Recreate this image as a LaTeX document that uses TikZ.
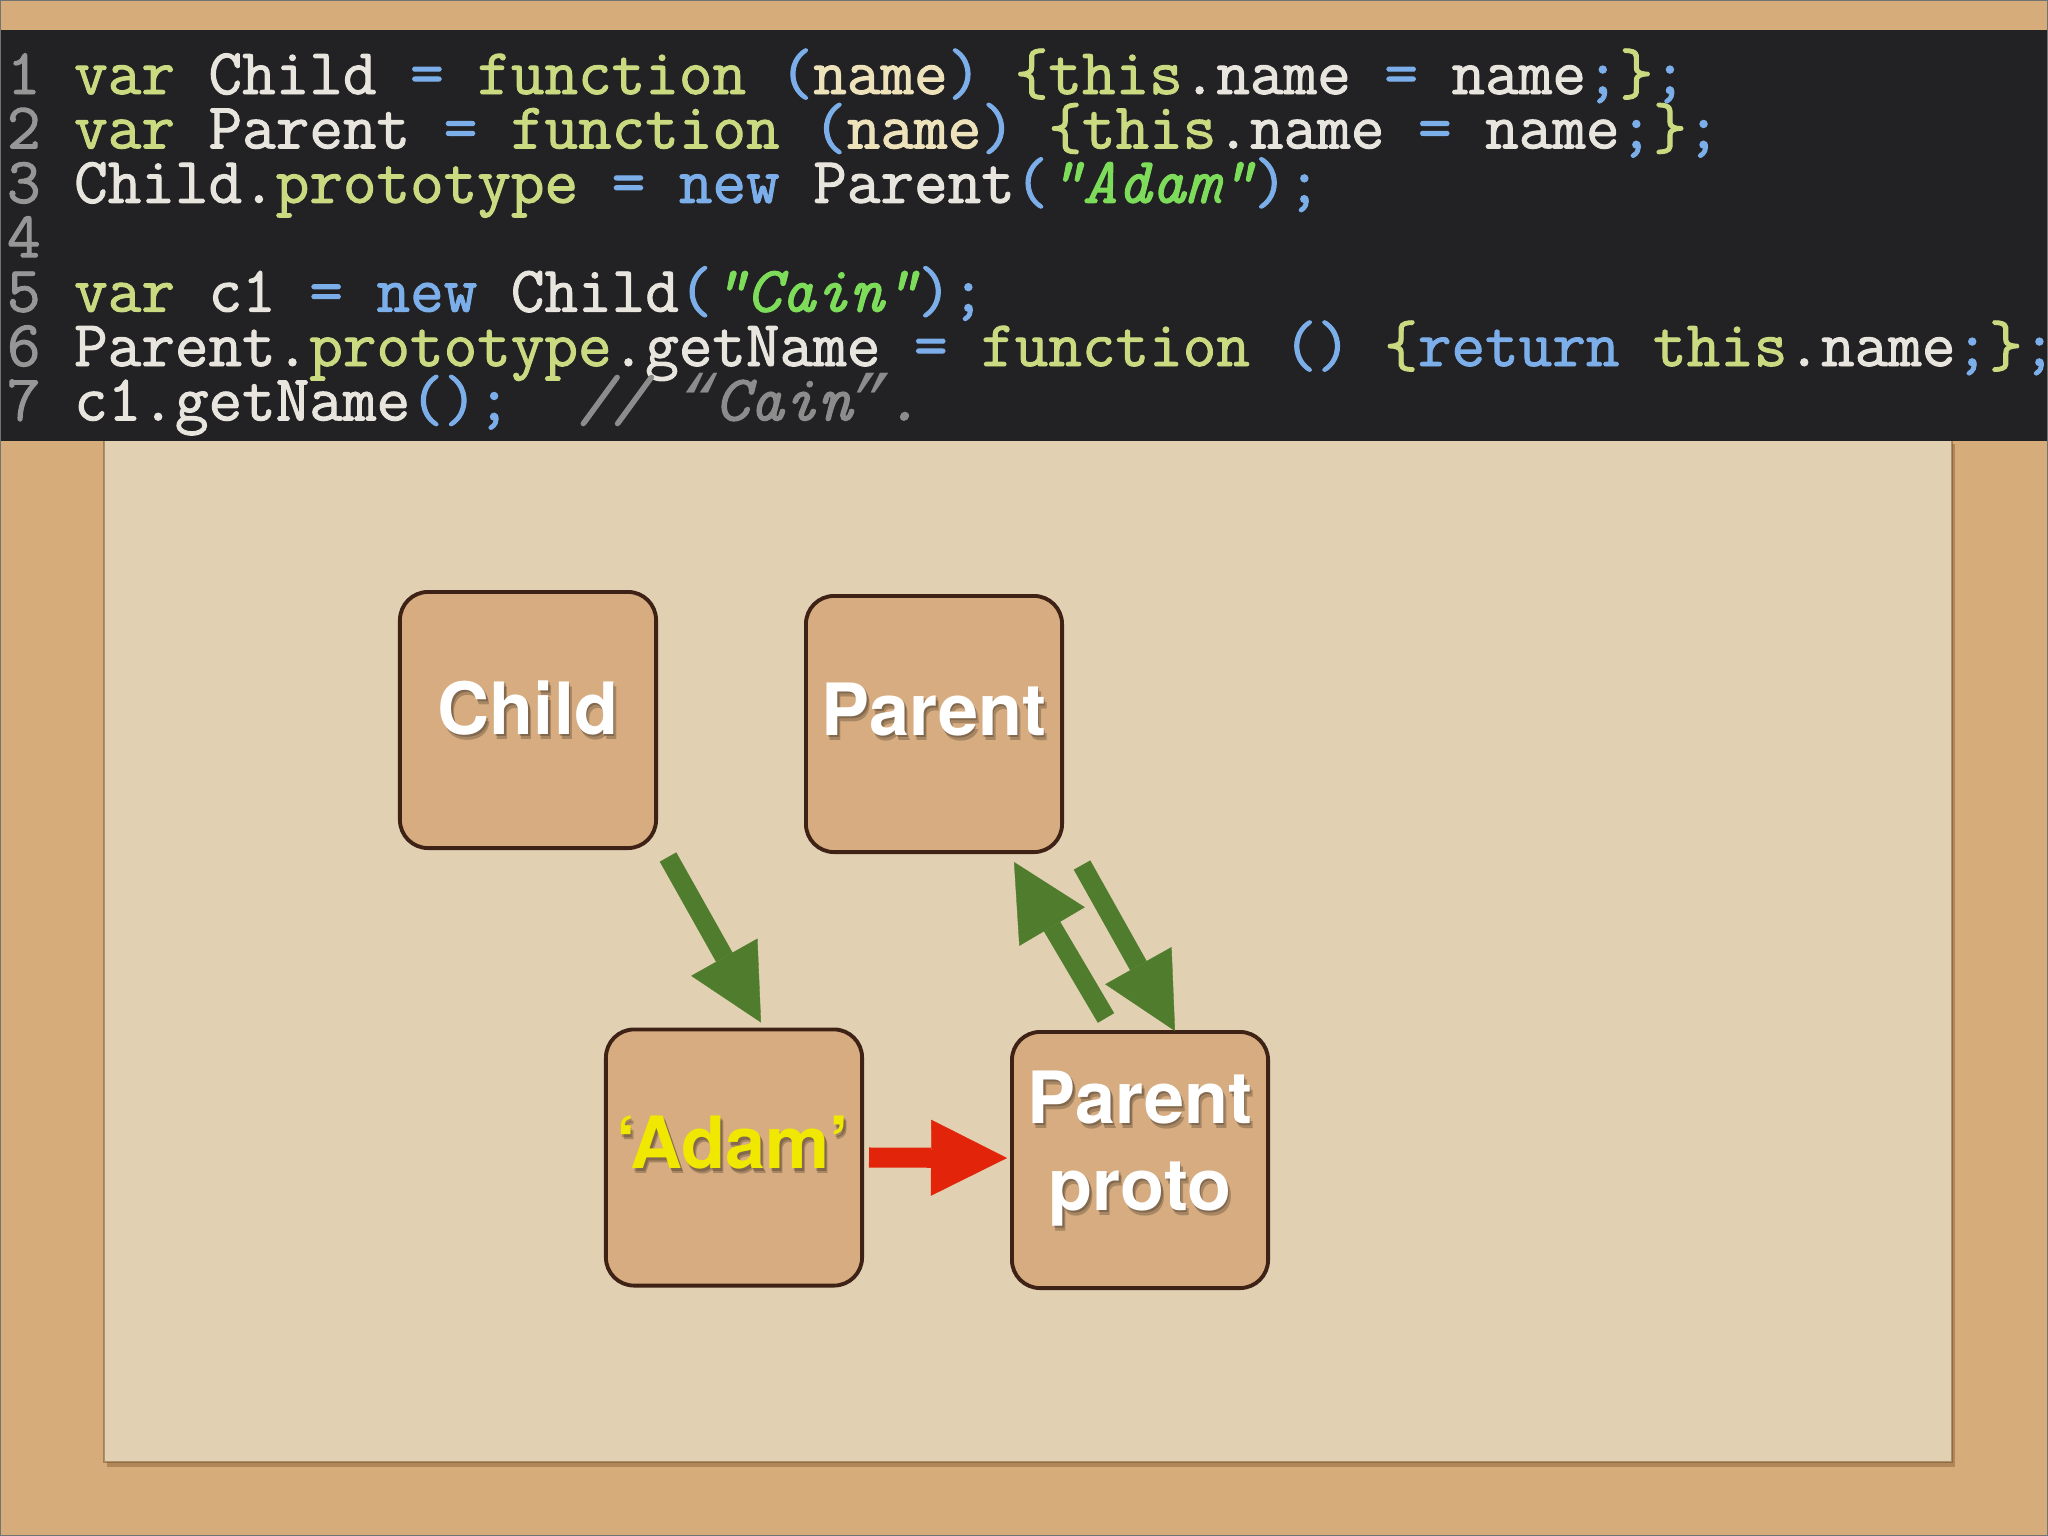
\documentclass[tikz,border=0pt]{standalone}
\usepackage{fontspec}
\usetikzlibrary{arrows.meta,calc}
\newfontfamily\codefont{Latin Modern Mono}[FakeBold=1.5,WordSpace={1,0,0}]
\newfontfamily\qfont{Liberation Mono}
\newfontfamily\heros{TeX Gyre Heros}
\definecolor{cork}{RGB}{214,172,122}
\definecolor{paper}{RGB}{225,208,178}
\definecolor{papershadow}{RGB}{120,80,40}
\definecolor{codebg}{RGB}{34,34,36}
\definecolor{lnum}{RGB}{150,150,150}
\definecolor{kwc}{RGB}{202,218,128}
\definecolor{idc}{RGB}{232,229,222}
\definecolor{opc}{RGB}{124,174,234}
\definecolor{parc}{RGB}{238,226,186}
\definecolor{strc}{RGB}{125,220,90}
\definecolor{cmtc}{RGB}{140,140,140}
\definecolor{boxfill}{RGB}{214,172,128}
\definecolor{boxline}{RGB}{62,34,22}
\definecolor{arrgreen}{RGB}{80,125,45}
\definecolor{arrred}{RGB}{226,36,10}
\definecolor{adamyellow}{RGB}{240,232,0}
\newcommand\hlN[1]{\textcolor{lnum}{#1}}
\newcommand\hlK[1]{\textcolor{kwc}{#1}}
\newcommand\hlO[1]{\textcolor{opc}{#1}}
\newcommand\hlP[1]{\textcolor{parc}{#1}}
\newcommand\hlS[1]{\textcolor{strc}{\itshape #1}}
\newcommand\hlC[1]{\textcolor{cmtc}{\itshape #1}}
\newcommand\hlQ[1]{\makebox[0.525em][c]{\qfont\itshape #1}}
\tikzset{
  codeline/.style={anchor=base west, inner sep=0pt, outer sep=0pt, text=idc,
    font=\codefont\fontsize{18.55}{22}\selectfont\frenchspacing},
  card/.style={draw=boxline, line width=1.1pt, fill=boxfill, rounded corners=8pt,
    minimum width=2.56cm, minimum height=2.56cm, inner sep=0pt},
  lbl/.style={anchor=base, inner sep=0pt, font=\heros\bfseries\fontsize{20.5}{24}\selectfont},
  lblshadow/.style={lbl, text=black, text opacity=0.22},
  garrow/.style={draw=arrgreen, line width=5.4pt,
    -{Triangle[length=21.3pt, width=21.6pt, line width=0.1pt]}},
  rarrow/.style={draw=arrred, line width=5.7pt,
    -{Triangle[length=21.6pt, width=21.6pt, line width=0.1pt]}},
}
\newcommand\shadowlabel[4]{%
  \node[lblshadow] (#1s1) at ($#2+(1.5,2.5)$) {#4};
  \node[lblshadow] (#1s2) at ($#2+(3,5)$) {#4};
  \node[lbl, text=#3] (#1) at #2 {#4};}
\begin{document}
\begin{tikzpicture}[x=0.01cm,y=-0.01cm]
\useasboundingbox (0,0) rectangle (2048,1536);
\begin{scope}
\clip (0,0) rectangle (2048,1536);
% background
\fill[cork] (0,0) rectangle (2048,1536);
\fill[papershadow, opacity=0.4] (107,444) rectangle (1955,1467);
\fill[paper] (104,441) rectangle (1952,1462);
\draw[papershadow, opacity=0.5, line width=0.6pt] (104,441) -- (104,1462) -- (1952,1462) -- (1952,441);
\fill[codebg] (0,30) rectangle (2048,441);
% code
\node[codeline] (l1) at (7,94.0) {\hlN{1} \hlK{var} Child \hlO{=} \hlK{function} \hlO{(}\hlP{name}\hlO{)} \hlK{\{this}.name \hlO{=} name\hlO{;}\hlK{\}}\hlO{;}};
\node[codeline] (l2) at (7,148.4) {\hlN{2} \hlK{var} Parent \hlO{=} \hlK{function} \hlO{(}\hlP{name}\hlO{)} \hlK{\{this}.name \hlO{=} name\hlO{;}\hlK{\}}\hlO{;}};
\node[codeline] (l3) at (7,202.8) {\hlN{3} Child.\hlK{prototype} \hlO{=} \hlO{new} Parent\hlO{(}\hlS{"Adam"}\hlO{);}};
\node[codeline] (l4) at (7,257.2) {\hlN{4}};
\node[codeline] (l5) at (7,311.6) {\hlN{5} \hlK{var} c1 \hlO{=} \hlO{new} Child\hlO{(}\hlS{"Cain"}\hlO{);}};
\node[codeline] (l6) at (7,366.0) {\hlN{6} Parent.\hlK{prototype}.getName \hlO{=} \hlK{function} \hlO{()} \hlK{\{}\hlO{return} \hlK{this}.name\hlO{;}\hlK{\}}\hlO{;}};
\node[codeline] (l7) at (7,420.4) {\hlN{7} c1.getName\hlO{();}\ \ \hlC{// \hlQ{“}Cain\hlQ{”}.}};
% cards
\node[card] (child) at (528,720) {};
\node[card] (parent) at (934,724) {};
\node[card] (adam) at (734,1157.5) {};
\node[card] (proto) at (1140,1160) {};
% labels
\shadowlabel{childlbl}{($(child.center)+(0,14)$)}{white}{Child}
\shadowlabel{parentlbl}{($(parent.center)+(0,11)$)}{white}{Parent}
\shadowlabel{adamlbl}{($(adam.center)+(-1,11)$)}{adamyellow}{‘Adam’}
\shadowlabel{protolbl1}{($(proto.center)+(0,-37)$)}{white}{Parent}
\shadowlabel{protolbl2}{($(proto.center)+(0,50)$)}{white}{proto}
% connectors
\draw[garrow] ($(child.south east)+(10,7)$) -- ($(adam.north)+(27,-5)$);
\draw[garrow] ($(proto.north)+(-34,-12)$) -- ($(parent.south east)+(-50,8)$);
\draw[garrow] ($(parent.south east)+(18,11)$) -- ($(proto.north)+(35,1)$);
\draw[rarrow] ($(adam.east)+(5,0)$) -- ($(proto.west)+(-3,-2)$);
\end{scope}
\draw[black!55, line width=0.8pt] (0,0) rectangle (2048,1536);
\end{tikzpicture}
\end{document}
